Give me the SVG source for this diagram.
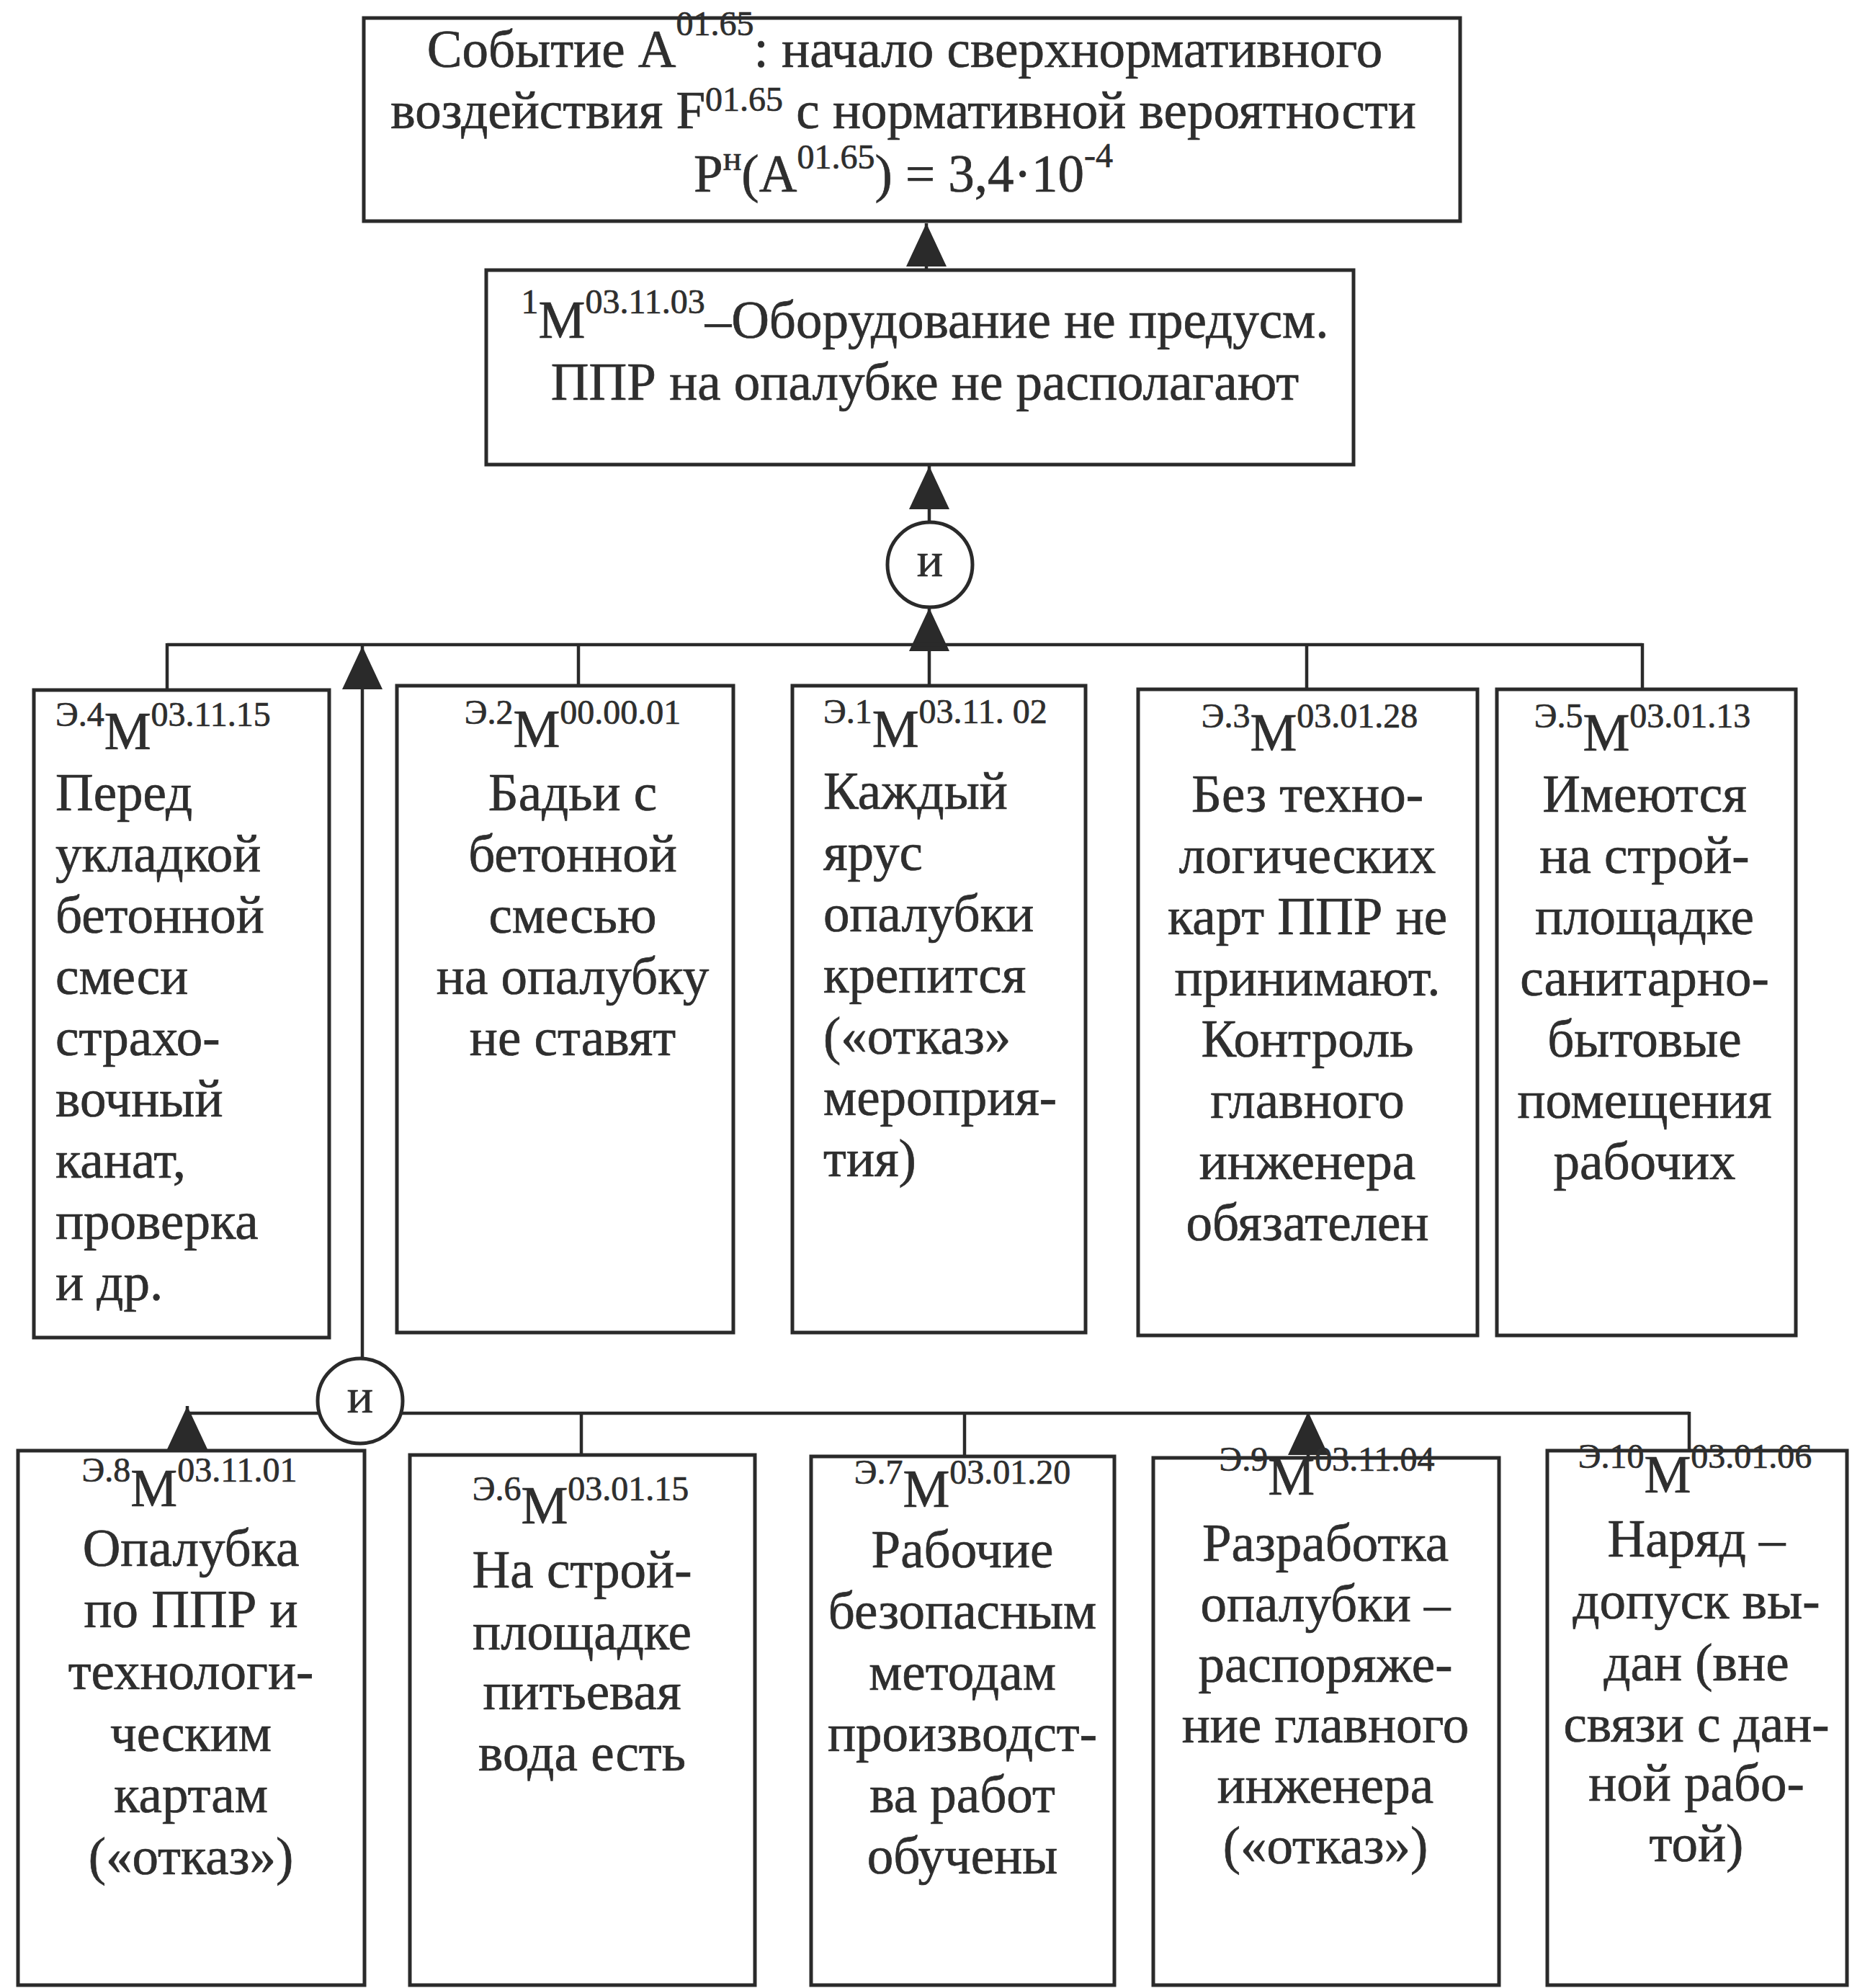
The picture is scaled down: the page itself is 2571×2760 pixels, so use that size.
<svg xmlns="http://www.w3.org/2000/svg" width="2571" height="2760" viewBox="0 0 2571 2760">
<defs>
<style>
.bx{fill:none;stroke:#2a2a2a;stroke-width:5}
.ln{fill:none;stroke:#2a2a2a;stroke-width:4.5}
.gt{fill:#fff;stroke:#2a2a2a;stroke-width:5}
text{font-family:"Liberation Serif","Times New Roman",serif;fill:#2e2e2e;stroke:#2e2e2e;stroke-width:0.7}
.t{font-size:73px}
.c{text-anchor:middle}
.s{font-size:48px}
.g{font-size:68px;text-anchor:middle}
</style>
<marker id="ah" viewBox="0 0 60 56" refX="60" refY="28" markerWidth="60" markerHeight="56" orient="auto" markerUnits="userSpaceOnUse">
<path d="M0,0 L60,28 L0,56 Z" fill="#2a2a2a"/>
</marker>
</defs>
<rect width="2571" height="2760" fill="#fff"/>

<g id="connectors">
<line class="ln" x1="1286" y1="375" x2="1286" y2="310" marker-end="url(#ah)"/>
<line class="ln" x1="1290" y1="724" x2="1290" y2="647" marker-end="url(#ah)"/>
<line class="ln" x1="1290" y1="952" x2="1290" y2="844" marker-end="url(#ah)"/>
<line class="ln" x1="232" y1="895" x2="2280" y2="895"/>
<line class="ln" x1="232" y1="893" x2="232" y2="958"/>
<line class="ln" x1="803" y1="893" x2="803" y2="952"/>
<line class="ln" x1="1814" y1="893" x2="1814" y2="957"/>
<line class="ln" x1="2280" y1="893" x2="2280" y2="957"/>
<line class="ln" x1="503" y1="1885" x2="503" y2="897" marker-end="url(#ah)"/>
<line class="ln" x1="260" y1="1962" x2="2345" y2="1962"/>
<line class="ln" x1="260" y1="2014" x2="260" y2="1952" marker-end="url(#ah)"/>
<line class="ln" x1="807" y1="1960" x2="807" y2="2020"/>
<line class="ln" x1="1339" y1="1960" x2="1339" y2="2022"/>
<line class="ln" x1="1816" y1="2024" x2="1816" y2="1960" marker-end="url(#ah)"/>
<line class="ln" x1="2345" y1="1960" x2="2345" y2="2014"/>
</g>

<g id="gate1">
<circle class="gt" cx="1291" cy="784" r="59"/>
<text class="g" x="1291" y="800">и</text>
</g>
<g id="gate2">
<circle class="gt" cx="500" cy="1945" r="59"/>
<text class="g" x="500" y="1961">и</text>
</g>

<g id="event">
<rect class="bx" x="505" y="25" width="1522" height="282"/>
<text class="t c" x="1256" y="93">Событие A<tspan class="s" dy="-44">01.65</tspan><tspan dy="44">: начало сверхнормативного</tspan></text>
<text class="t c" x="1254" y="178">воздействия F<tspan class="s" dy="-24">01.65</tspan><tspan dy="24"> с нормативной вероятности</tspan></text>
<text class="t c" x="1254" y="266">P<tspan class="s" dy="-30">н</tspan><tspan dy="30">(A</tspan><tspan class="s" dy="-32">01.65</tspan><tspan dy="32">) = 3,4·10</tspan><tspan class="s" dy="-34">-4</tspan></text>
</g>

<g id="m1">
<rect class="bx" x="675" y="375" width="1204" height="270"/>
<text class="t c" x="1284" y="469"><tspan class="s" dy="-34">1</tspan><tspan dy="34">М</tspan><tspan class="s" dy="-34">03.11.03</tspan><tspan dy="34">–Оборудование не предусм.</tspan></text>
<text class="t c" x="1284" y="555">ППР на опалубке не располагают</text>
</g>

<g id="e4">
<rect class="bx" x="47" y="958" width="410" height="899"/>
<text class="t" x="77" y="1008"><tspan class="s">Э.4</tspan><tspan dy="32">М</tspan><tspan class="s" dy="-32">03.11.15</tspan></text>
<text class="t" x="77" y="1125">Перед</text>
<text class="t" x="77" y="1210">укладкой</text>
<text class="t" x="77" y="1295">бетонной</text>
<text class="t" x="77" y="1380">смеси</text>
<text class="t" x="77" y="1465">страхо-</text>
<text class="t" x="77" y="1550">вочный</text>
<text class="t" x="77" y="1635">канат,</text>
<text class="t" x="77" y="1720">проверка</text>
<text class="t" x="77" y="1805">и др.</text>
</g>

<g id="e2">
<rect class="bx" x="551" y="952" width="467" height="898"/>
<text class="t c" x="795" y="1005"><tspan class="s">Э.2</tspan><tspan dy="32">М</tspan><tspan class="s" dy="-32">00.00.01</tspan></text>
<text class="t c" x="795" y="1125">Бадьи с</text>
<text class="t c" x="795" y="1210">бетонной</text>
<text class="t c" x="795" y="1295">смесью</text>
<text class="t c" x="795" y="1380">на опалубку</text>
<text class="t c" x="795" y="1465">не ставят</text>
</g>

<g id="e1">
<rect class="bx" x="1100" y="952" width="407" height="898"/>
<text class="t" x="1143" y="1004"><tspan class="s">Э.1</tspan><tspan dy="33">М</tspan><tspan class="s" dy="-33">03.11. 02</tspan></text>
<text class="t" x="1143" y="1123">Каждый</text>
<text class="t" x="1143" y="1208">ярус</text>
<text class="t" x="1143" y="1293">опалубки</text>
<text class="t" x="1143" y="1378">крепится</text>
<text class="t" x="1143" y="1463">(«отказ»</text>
<text class="t" x="1143" y="1548">мероприя-</text>
<text class="t" x="1143" y="1633">тия)</text>
</g>

<g id="e3">
<rect class="bx" x="1580" y="957" width="471" height="897"/>
<text class="t c" x="1818" y="1010"><tspan class="s">Э.3</tspan><tspan dy="32">М</tspan><tspan class="s" dy="-32">03.01.28</tspan></text>
<text class="t c" x="1815" y="1127">Без техно-</text>
<text class="t c" x="1815" y="1212">логических</text>
<text class="t c" x="1815" y="1297">карт ППР не</text>
<text class="t c" x="1815" y="1382">принимают.</text>
<text class="t c" x="1815" y="1467">Контроль</text>
<text class="t c" x="1815" y="1552">главного</text>
<text class="t c" x="1815" y="1637">инженера</text>
<text class="t c" x="1815" y="1722">обязателен</text>
</g>

<g id="e5">
<rect class="bx" x="2078" y="957" width="415" height="897"/>
<text class="t c" x="2280" y="1010"><tspan class="s">Э.5</tspan><tspan dy="32">М</tspan><tspan class="s" dy="-32">03.01.13</tspan></text>
<text class="t c" x="2283" y="1127">Имеются</text>
<text class="t c" x="2283" y="1212">на строй-</text>
<text class="t c" x="2283" y="1297">площадке</text>
<text class="t c" x="2283" y="1382">санитарно-</text>
<text class="t c" x="2283" y="1467">бытовые</text>
<text class="t c" x="2283" y="1552">помещения</text>
<text class="t c" x="2283" y="1637">рабочих</text>
</g>

<g id="e8">
<rect class="bx" x="25" y="2014" width="481" height="742"/>
<text class="t c" x="263" y="2057"><tspan class="s">Э.8</tspan><tspan dy="34">М</tspan><tspan class="s" dy="-34">03.11.01</tspan></text>
<text class="t c" x="265" y="2174">Опалубка</text>
<text class="t c" x="265" y="2259">по ППР и</text>
<text class="t c" x="265" y="2345">технологи-</text>
<text class="t c" x="265" y="2431">ческим</text>
<text class="t c" x="265" y="2516">картам</text>
<text class="t c" x="265" y="2602">(«отказ»)</text>
</g>

<g id="e6">
<rect class="bx" x="569" y="2020" width="479" height="736"/>
<text class="t c" x="806" y="2083"><tspan class="s">Э.6</tspan><tspan dy="32">М</tspan><tspan class="s" dy="-32">03.01.15</tspan></text>
<text class="t c" x="808" y="2204">На строй-</text>
<text class="t c" x="808" y="2290">площадке</text>
<text class="t c" x="808" y="2373">питьевая</text>
<text class="t c" x="808" y="2458">вода есть</text>
</g>

<g id="e7">
<rect class="bx" x="1126" y="2022" width="421" height="734"/>
<text class="t c" x="1336" y="2060"><tspan class="s">Э.7</tspan><tspan dy="32">М</tspan><tspan class="s" dy="-32">03.01.20</tspan></text>
<text class="t c" x="1336" y="2176">Рабочие</text>
<text class="t c" x="1336" y="2261">безопасным</text>
<text class="t c" x="1336" y="2346">методам</text>
<text class="t c" x="1336" y="2431">производст-</text>
<text class="t c" x="1336" y="2516">ва работ</text>
<text class="t c" x="1336" y="2601">обучены</text>
</g>

<g id="e9">
<rect class="bx" x="1601" y="2024" width="480" height="732"/>
<text class="t c" x="1842" y="2042"><tspan class="s">Э.9</tspan><tspan dy="33">М</tspan><tspan class="s" dy="-33">03.11.04</tspan></text>
<text class="t c" x="1840" y="2167">Разработка</text>
<text class="t c" x="1840" y="2251">опалубки –</text>
<text class="t c" x="1840" y="2335">распоряже-</text>
<text class="t c" x="1840" y="2419">ние главного</text>
<text class="t c" x="1840" y="2503">инженера</text>
<text class="t c" x="1840" y="2587">(«отказ»)</text>
</g>

<g id="e10">
<rect class="bx" x="2148" y="2014" width="416" height="742"/>
<text class="t c" x="2353" y="2038"><tspan class="s">Э.10</tspan><tspan dy="34">М</tspan><tspan class="s" dy="-34">03.01.06</tspan></text>
<text class="t c" x="2355" y="2161">Наряд –</text>
<text class="t c" x="2355" y="2247">допуск вы-</text>
<text class="t c" x="2355" y="2333">дан (вне</text>
<text class="t c" x="2355" y="2418">связи с дан-</text>
<text class="t c" x="2355" y="2500">ной рабо-</text>
<text class="t c" x="2355" y="2584">той)</text>
</g>
</svg>
